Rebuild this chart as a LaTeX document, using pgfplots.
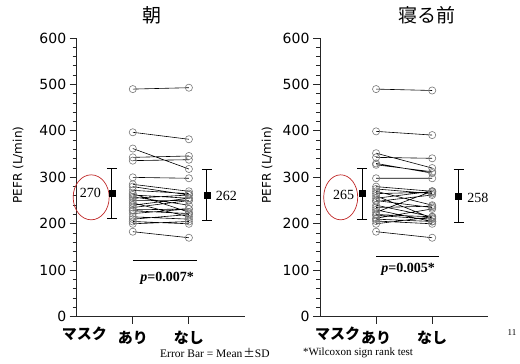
\documentclass[border=0pt]{standalone}
\usepackage{pgfplots}
\pgfplotsset{compat=1.18}
\usepackage{fontspec}
\setmainfont{Liberation Serif}
\newfontfamily\dejavu{DejaVu Sans}
\newfontfamily\jp{Noto Sans CJK JP}
\definecolor{ellred}{RGB}{192,40,40}
\definecolor{circgray}{RGB}{120,120,120}
\pgfplotsset{
 panel/.style={
  scale only axis, width=168.3pt, height=278.7pt,
  xmin=0, xmax=3, ymin=0, ymax=600,
  axis x line=bottom, axis y line=left,
  axis line style={-, line width=0.9pt, black!85},
  tick align=outside, major tick length=7pt, minor tick length=4pt,
  tick style={black!85, line width=0.9pt},
  ytick={0,100,...,600}, minor y tick num=4,
  xtick={1,2}, xticklabels={あり,なし},
  /pgf/number format/assume math mode=true,
  yticklabel style={font=\dejavu\fontsize{14}{16}\selectfont},
  xticklabel style={font=\jp\bfseries\fontsize{15}{17}\selectfont, yshift=-4pt},
  extra x tick labels={マスク},
  extra x tick style={major tick length=0pt, xticklabel style={yshift=-3pt}},
  clip=false,
 },
 pair/.style={black, line width=0.6pt, mark=o, mark size=3.6pt,
   mark options={draw=circgray, line width=0.6pt, fill=none}, empty line=jump},
 meanbar/.style={black, only marks, mark=square*, mark size=3pt,
   error bars/.cd, y dir=both, y explicit,
   error bar style={line width=1pt, black},
   error mark options={rotate=90, mark size=5pt, line width=1pt, black}},
}
\begin{document}
\begin{tikzpicture}
\useasboundingbox (0,0) rectangle (520pt,364pt);
% left panel
\begin{axis}[panel, at={(76.7pt,47.3pt)}, anchor=south west, extra x ticks={0.135}]
\addplot[pair] table[x=x,y=y] {
x y
1 490
2 493

1 397
2 382

1 362
2 318

1 343
2 346

1 336
2 338

1 300
2 298

1 285
2 270

1 280
2 262

1 272
2 265

1 265
2 225

1 262
2 255

1 258
2 240

1 255
2 262

1 250
2 250

1 245
2 215

1 240
2 255

1 235
2 250

1 230
2 232

1 228
2 222

1 222
2 232

1 215
2 210

1 210
2 220

1 205
2 200

1 200
2 205

1 183
2 170
};
\addplot[meanbar] table[x=x,y=y,y error=e] {
x y e
0.627 266 54
2.32 262 54.5
};
\node[font=\fontsize{14}{16}\selectfont] at (axis cs:0.242,266.6) {270};
\draw[ellred, line width=0.7pt] (axis cs:0.258,257) ellipse [x radius=18pt, y radius=22.5pt];
\node[font=\fontsize{14}{16}\selectfont] at (axis cs:2.67,260.8) {262};
\draw[line width=0.6pt] (axis cs:1,122) -- (axis cs:2.14,122);
\node[font=\bfseries\fontsize{14}{16}\selectfont] at (axis cs:1.61,83) {\textit{p}=0.007*};
\end{axis}
% right panel
\begin{axis}[panel, at={(320pt,47.3pt)}, anchor=south west, extra x ticks={0.316}]
\addplot[pair] table[x=x,y=y] {
x y
1 490
2 487

1 399
2 391

1 352
2 320

1 343
2 341

1 330
2 309

1 327
2 312

1 298
2 298

1 280
2 270

1 275
2 265

1 270
2 240

1 265
2 268

1 260
2 212

1 255
2 270

1 250
2 235

1 248
2 262

1 240
2 215

1 235
2 238

1 230
2 205

1 225
2 270

1 220
2 215

1 218
2 210

1 212
2 232

1 210
2 205

1 206
2 200

1 200
2 215

1 183
2 170
};
\addplot[meanbar] table[x=x,y=y,y error=e] {
x y e
0.75 265 55
2.47 259.5 56.5
};
\node[font=\fontsize{14}{16}\selectfont] at (axis cs:0.422,262.3) {265};
\draw[ellred, line width=0.7pt] (axis cs:0.369,257) ellipse [x radius=17pt, y radius=22.5pt];
\node[font=\fontsize{14}{16}\selectfont] at (axis cs:2.816,256.5) {258};
\draw[line width=0.6pt] (axis cs:1,130) -- (axis cs:2.12,130);
\node[font=\bfseries\fontsize{14}{16}\selectfont] at (axis cs:1.57,103) {\textit{p}=0.005*};
\end{axis}
% titles and labels
\node[font=\jp\fontsize{19}{21}\selectfont] at (152pt,349pt) {朝};
\node[font=\jp\fontsize{19}{21}\selectfont] at (427pt,349pt) {寝る前};
\node[rotate=90, font=\dejavu\fontsize{12}{14}\selectfont] at (18pt,199pt) {PEFR (L/min)};
\node[rotate=90, font=\dejavu\fontsize{12}{14}\selectfont] at (267pt,199pt) {PEFR (L/min)};
\node[anchor=west, inner sep=0pt, font=\fontsize{11.5}{14}\selectfont] at (160pt,11pt) {Error Bar = Mean\hspace{1pt}{\jp ±}SD};
\node[anchor=west, inner sep=0pt, font=\fontsize{11}{13}\selectfont] at (303pt,11pt) {*Wilcoxon sign rank test};
\node[font=\fontsize{9}{10}\selectfont] at (512pt,31pt) {11};
\end{tikzpicture}
\end{document}
